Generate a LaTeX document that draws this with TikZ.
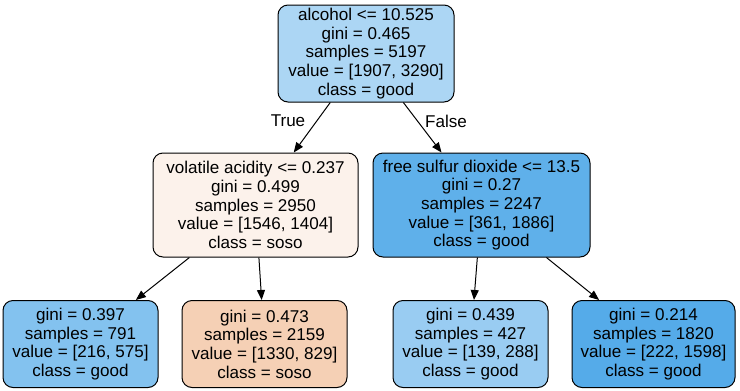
\documentclass[tikz,border=0pt]{standalone}
\usepackage{fontspec}
\setmainfont{Liberation Sans}
\usetikzlibrary{arrows.meta,positioning}
\definecolor{rootfill}{RGB}{172,214,244}
\definecolor{sosolight}{RGB}{252,242,235}
\definecolor{gooddeep}{RGB}{95,176,234}
\definecolor{goodleafa}{RGB}{131,194,239}
\definecolor{sosoleaf}{RGB}{245,208,181}
\definecolor{goodleafb}{RGB}{153,204,242}
\definecolor{goodleafc}{RGB}{85,171,233}
\tikzset{treenode/.style={draw,line width=0.75pt,rounded corners=7.5pt,align=center,inner sep=0pt,
    font=\fontsize{12.8}{14}\selectfont},
  branch/.style={line width=0.75pt,-{Triangle[length=7.5pt,width=6pt]}},
  edgelabel/.style={font=\fontsize{12.8}{14}\selectfont}}

\begin{document}
\begin{tikzpicture}[x=0.75pt,y=-0.75pt]
    \useasboundingbox (0,0) rectangle (740,390);
    \node[treenode,fill=rootfill,minimum width=132pt,minimum height=72.75pt] (root) at (366,53.5)
        {alcohol <= 10.525\\gini = 0.465\\samples = 5197\\value = [1907, 3290]\\class = good};
    \node[treenode,fill=sosolight,minimum width=153.75pt,minimum height=78pt] (acid) at (255.5,205)
        {volatile acidity <= 0.237\\gini = 0.499\\samples = 2950\\value = [1546, 1404]\\class = soso};
    \node[treenode,fill=gooddeep,minimum width=162.75pt,minimum height=78pt] (sulfur) at (481.5,205)
        {free sulfur dioxide <= 13.5\\gini = 0.27\\samples = 2247\\value = [361, 1886]\\class = good};
    \node[treenode,fill=goodleafa,minimum width=116.25pt,minimum height=65.25pt] (leafa) at (80.5,344)
        {gini = 0.397\\samples = 791\\value = [216, 575]\\class = good};
    \node[treenode,fill=sosoleaf,minimum width=123.75pt,minimum height=65.25pt] (leafb) at (264.5,344)
        {gini = 0.473\\samples = 2159\\value = [1330, 829]\\class = soso};
    \node[treenode,fill=goodleafb,minimum width=116.25pt,minimum height=65.25pt] (leafc) at (470.5,344)
        {gini = 0.439\\samples = 427\\value = [139, 288]\\class = good};
    \node[treenode,fill=goodleafc,minimum width=122.25pt,minimum height=65.25pt] (leafd) at (653.5,344)
        {gini = 0.214\\samples = 1820\\value = [222, 1598]\\class = good};
    % edges
    \draw[branch] (root) -- (acid);
    \draw[branch] (root) -- (sulfur);
    \draw[branch] (acid) -- (leafa);
    \draw[branch] (acid) -- (leafb);
    \draw[branch] (sulfur) -- (leafc);
    \draw[branch] (sulfur) -- (leafd);
    \node[edgelabel] (truelab) at (288,121) {True};
    \node[edgelabel] (falselab) at (446,121) {False};
\end{tikzpicture}
\end{document}
